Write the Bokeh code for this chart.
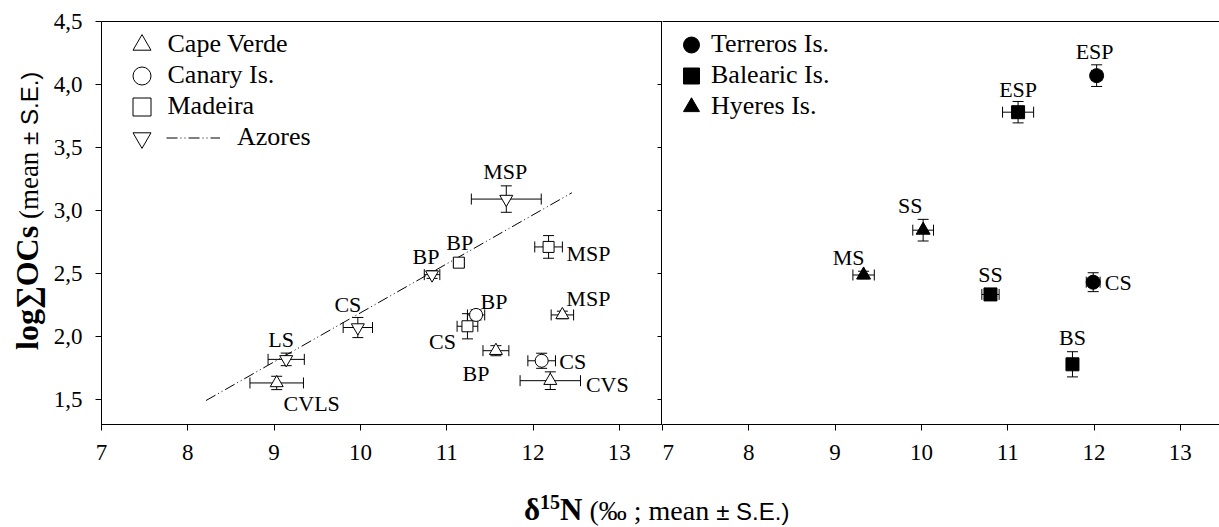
from bokeh.plotting import figure
from bokeh.models import (Range1d, FixedTicker, LinearAxis, Whisker, TeeHead,
                          ColumnDataSource, Legend, LegendItem, Div, CustomJSTickFormatter)
from bokeh.layouts import row, column
from bokeh.core.properties import value
from bokeh.embed import file_html
from bokeh.resources import INLINE

# ---- Atlantic islands (open symbols) ----
cv_names = ["CVLS", "BP", "MSP", "CVS"]          # Cape Verde
cv_x = [9.03, 11.57, 12.34, 12.20]
cv_y = [1.63, 1.886, 2.17, 1.648]
cv_xerr = [0.31, 0.15, 0.13, 0.35]
cv_yerr = [0.053, 0.04, 0.03, 0.07]

ca_names = ["BP", "CS"]                          # Canary Is.
ca_x = [11.34, 12.10]
ca_y = [2.17, 1.806]
ca_xerr = [0.10, 0.16]
ca_yerr = [0.04, 0.06]

ma_names = ["CS", "BP", "MSP"]                   # Madeira
ma_x = [11.24, 11.14, 12.18]
ma_y = [2.08, 2.585, 2.71]
ma_xerr = [0.12, 0.06, 0.16]
ma_yerr = [0.10, 0.03, 0.09]

az_names = ["LS", "CS", "BP", "MSP"]             # Azores
az_x = [9.14, 9.97, 10.83, 11.69]
az_y = [1.817, 2.07, 2.49, 3.09]
az_xerr = [0.21, 0.17, 0.09, 0.405]
az_yerr = [0.05, 0.08, 0.03, 0.105]

az_fit_x = [8.21, 12.45]                         # Azores regression line
az_fit_y = [1.49, 3.14]

# ---- Mediterranean islands (filled symbols) ----
te_names = ["ESP", "CS"]                         # Terreros Is.
te_x = [12.03, 11.99]
te_y = [4.07, 2.43]
te_xerr = [0.06, 0.08]
te_yerr = [0.086, 0.075]

ba_names = ["ESP", "SS", "BS"]                   # Balearic Is.
ba_x = [11.12, 10.80, 11.75]
ba_y = [3.78, 2.333, 1.778]
ba_xerr = [0.18, 0.10, 0.05]
ba_yerr = [0.085, 0.025, 0.10]

hy_names = ["MS", "SS"]                          # Hyeres Is.
hy_x = [9.33, 10.02]
hy_y = [2.487, 2.843]
hy_xerr = [0.124, 0.12]
hy_yerr = [0.03, 0.086]

x_ticks = [7, 8, 9, 10, 11, 12, 13]
y_ticks = [1.5, 2.0, 2.5, 3.0, 3.5, 4.0, 4.5]
y_tick_labels = ["1,5", "2,0", "2,5", "3,0", "3,5", "4,0", "4,5"]

# label placement (pixel offsets from each point)
cv_off = [(35, 21), (-20, 23), (26, -16), (57, 4)]
ca_off = [(18, -13), (31, 1)]
ma_off = [(-25, 15), (1, -20), (40, 7)]
az_off = [(-5, -20), (-10, -23), (-6, -18), (-1, -28)]
te_off = [(-2, -24), (25, 0)]
ba_off = [(0, -23), (0, -20), (0, -27)]
hy_off = [(-15, -18), (-13, -25)]

SERIF = "Liberation Serif"
FRAME_W = 561
PX_PER_UNIT = FRAME_W / 6.5
FRAME_H = 403
TOP, BOTTOM = 21, 60
YLAB_W = 46


def style_axis(ax, standoff):
    ax.axis_line_color = "black"
    ax.major_tick_line_color = "black"
    ax.major_tick_out = 6
    ax.major_tick_in = 0
    ax.minor_tick_line_color = None
    ax.major_label_text_font = SERIF
    ax.major_label_text_font_size = "23px"
    ax.major_label_text_color = "black"
    ax.major_label_standoff = standoff


def make_fig(width, x_end, left_border, y_axis_loc):
    p = figure(width=width, height=TOP + FRAME_H + BOTTOM,
               x_range=Range1d(7, x_end), y_range=Range1d(1.3, 4.5),
               output_backend="svg", toolbar_location=None,
               y_axis_location=y_axis_loc,
               min_border_left=left_border, min_border_right=0,
               min_border_top=TOP, min_border_bottom=BOTTOM)
    p.xgrid.visible = False
    p.ygrid.visible = False
    p.background_fill_color = "white"
    p.border_fill_color = "white"
    p.xaxis.ticker = FixedTicker(ticks=x_ticks)
    style_axis(p.xaxis[0], 14)
    return p


def draw_group(p, xs, ys, xerr, yerr, names, offs, marker, fill, size):
    src = ColumnDataSource(dict(
        x=xs, y=ys,
        xl=[a - e for a, e in zip(xs, xerr)], xu=[a + e for a, e in zip(xs, xerr)],
        yl=[a - e for a, e in zip(ys, yerr)], yu=[a + e for a, e in zip(ys, yerr)],
        name=names, dx=[o[0] for o in offs], dy=[o[1] for o in offs]))
    for base, lo, up, dim in (("y", "xl", "xu", "width"), ("x", "yl", "yu", "height")):
        p.add_layout(Whisker(source=src, base=base, lower=lo, upper=up, dimension=dim,
                             level="underlay", line_color="black", line_width=1,
                             lower_head=TeeHead(size=11, line_color="black", line_width=1),
                             upper_head=TeeHead(size=11, line_color="black", line_width=1)))
    r = p.scatter("x", "y", source=src, marker=marker, size=size,
                  fill_color=fill, line_color="black", line_width=1)
    p.text("x", "y", text="name", source=src, x_offset="dx", y_offset="dy",
           text_align="center", text_baseline="middle",
           text_font=value(SERIF), text_font_size="22px", text_color="black")
    return r


def add_key(p, renderer, label, cx, cy, glyph_w, standoff, frame_left):
    """One legend entry, centred on (cx, cy) in page pixels."""
    p.add_layout(Legend(
        items=[LegendItem(label=label, renderers=[renderer])],
        location=(cx - glyph_w / 2 - frame_left, TOP + FRAME_H - cy - 22.5),
        glyph_width=glyph_w, glyph_height=45, label_height=45, label_standoff=standoff,
        label_text_font=SERIF, label_text_font_size="26px", label_text_color="black",
        padding=0, margin=0, spacing=0, border_line_color=None, background_fill_alpha=0))


# ---------------- left panel ----------------
LEFT_FRAME = 101
p1 = make_fig(LEFT_FRAME - YLAB_W + FRAME_W, 13.5, LEFT_FRAME - YLAB_W, "left")
p1.outline_line_color = "black"
p1.yaxis.ticker = FixedTicker(ticks=y_ticks)
p1.yaxis.major_label_overrides = dict(zip(y_ticks, y_tick_labels))
style_axis(p1.yaxis[0], 13)

divider = LinearAxis(ticker=FixedTicker(ticks=y_ticks), major_tick_in=5, major_tick_out=0,
                     major_tick_line_color="black", minor_tick_line_color=None,
                     axis_line_color="black", major_label_standoff=0,
                     formatter=CustomJSTickFormatter(code="return ''"))
p1.add_layout(divider, "right")

fit = p1.line(az_fit_x, az_fit_y, line_color="black", line_width=1,
              line_dash="11 3 1 3 1 3")
r_cv = draw_group(p1, cv_x, cv_y, cv_xerr, cv_yerr, cv_names, cv_off, "triangle", "white", 13)
r_ca = draw_group(p1, ca_x, ca_y, ca_xerr, ca_yerr, ca_names, ca_off, "circle", "white", 13)
r_ma = draw_group(p1, ma_x, ma_y, ma_xerr, ma_yerr, ma_names, ma_off, "square", "white", 11)
r_az = draw_group(p1, az_x, az_y, az_xerr, az_yerr, az_names, az_off, "inverted_triangle", "white", 13)

add_key(p1, r_cv, "Cape Verde", 141, 44, 45, 4, LEFT_FRAME)
add_key(p1, r_ca, "Canary Is.", 141, 75, 45, 4, LEFT_FRAME)
add_key(p1, r_ma, "Madeira", 141, 106, 45, 4, LEFT_FRAME)
add_key(p1, r_az, " ", 141, 137, 45, 4, LEFT_FRAME)
add_key(p1, fit, "Azores", 193, 137, 54, 17, LEFT_FRAME)

# ---------------- right panel ----------------
RIGHT_FRAME = LEFT_FRAME + FRAME_W
right_w = 1219 - RIGHT_FRAME
p2 = make_fig(right_w, 7 + right_w / PX_PER_UNIT, 0, None)
p2.outline_line_color = None
top_line = LinearAxis(ticker=FixedTicker(ticks=[]), major_tick_out=0, major_tick_in=0,
                      minor_tick_line_color=None, axis_line_color="black",
                      major_label_standoff=0)
p2.add_layout(top_line, "above")

r_te = draw_group(p2, te_x, te_y, te_xerr, te_yerr, te_names, te_off, "circle", "black", 14)
r_ba = draw_group(p2, ba_x, ba_y, ba_xerr, ba_yerr, ba_names, ba_off, "square", "black", 13)
r_hy = draw_group(p2, hy_x, hy_y, hy_xerr, hy_yerr, hy_names, hy_off, "triangle", "black", 14)

add_key(p2, r_te, "Terreros Is.", 691, 44, 40, 0, RIGHT_FRAME)
add_key(p2, r_ba, "Balearic Is.", 691, 75, 40, 0, RIGHT_FRAME)
add_key(p2, r_hy, "Hyeres Is.", 691, 106, 40, 0, RIGHT_FRAME)

# ---------------- axis titles ----------------
ylab = Div(
    text=('<div style="position:relative;left:10px;top:350px;width:max-content;'
          'transform:rotate(-90deg);transform-origin:0 0;white-space:nowrap;color:black;'
          'font-family:\'Liberation Serif\';line-height:34px">'
          '<span style="font-weight:bold;font-size:32px">log∑OCs</span>'
          '<span style="font-size:27px"> (mean </span>'
          '<span style="font-family:\'Liberation Sans\';font-size:24px">± S.E.)</span></div>'),
    width=YLAB_W, height=TOP + FRAME_H + BOTTOM, margin=0)

xlab = Div(
    text=('<div style="margin-left:524px;margin-top:0px;white-space:nowrap;color:black;'
          'font-family:\'Liberation Serif\';line-height:36px">'
          '<span style="font-weight:bold;font-size:31px">δ<sup style="font-size:20px">15</sup>N</span>'
          '<span style="font-size:28px"> (‰ ; mean </span>'
          '<span style="font-family:\'Liberation Sans\';font-size:24px">± S.E.)</span></div>'),
    width=1219, height=527 - (TOP + FRAME_H + BOTTOM), margin=0)

layout = column(row(ylab, p1, p2), xlab)
open("out.html", "w").write(file_html(layout, INLINE))
